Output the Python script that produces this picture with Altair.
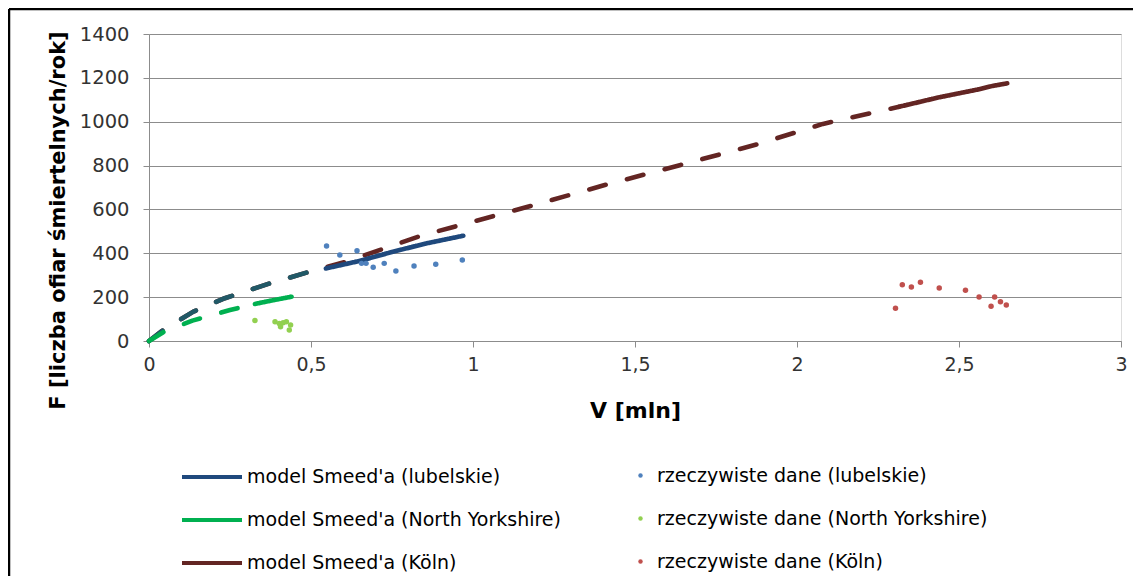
import altair as alt
import pandas as pd

# ---- model lines (Smeed) ----
koln_dash_v = [0, 0.044, 0.137, 0.234, 0.373, 0.496, 0.609, 0.835, 0.934, 1.169, 1.404, 1.641, 1.877, 2.08, 2.315]
koln_dash_f = [0, 50, 134, 195, 263, 316, 362, 478, 518, 612, 710, 803, 897, 990, 1068]
koln_solid_v = [2.315, 2.438, 2.562, 2.603, 2.649]
koln_solid_f = [1068, 1111, 1148, 1163, 1175]

lub_dash_v = [0, 0.044, 0.137, 0.234, 0.373, 0.496, 0.546]
lub_dash_f = [0, 50, 134, 195, 263, 316, 331]
lub_solid_v = [0.546, 0.650, 0.753, 0.856, 0.970]
lub_solid_f = [331, 365, 407, 445, 480]

ny_dash_v = [0, 0.044, 0.134, 0.25, 0.327]
ny_dash_f = [0, 40, 93, 141, 169]
ny_solid_v = [0.327, 0.38, 0.44]
ny_solid_f = [169, 185, 202]

# ---- observed data ----
lub_pts_v = [0.548, 0.589, 0.642, 0.656, 0.670, 0.692, 0.726, 0.762, 0.818, 0.885, 0.967]
lub_pts_f = [433, 392, 412, 354, 354, 336, 354, 319, 342, 350, 369]
ny_pts_v = [0.327, 0.389, 0.402, 0.406, 0.414, 0.424, 0.433, 0.437]
ny_pts_f = [93, 88, 80, 65, 83, 88, 50, 73]
koln_pts_v = [2.304, 2.325, 2.353, 2.381, 2.439, 2.520, 2.562, 2.599, 2.610, 2.628, 2.646]
koln_pts_f = [149, 257, 246, 268, 242, 231, 201, 158, 201, 179, 164]

M_LUB = "model Smeed'a (lubelskie)"
M_NY = "model Smeed'a (North Yorkshire)"
M_KOLN = "model Smeed'a (Köln)"
M_LUB_EXT = "model Smeed'a (lubelskie) ext"
D_LUB = "rzeczywiste dane (lubelskie)"
D_NY = "rzeczywiste dane (North Yorkshire)"
D_KOLN = "rzeczywiste dane (Köln)"

def seg(vs, fs, series, kind):
    return pd.DataFrame({"V": vs, "F": fs, "series": series, "seg": kind})

koln_df = pd.concat([seg(koln_dash_v, koln_dash_f, M_KOLN, "dash"),
                     seg(koln_solid_v, koln_solid_f, M_KOLN, "solid")])
lub_df = pd.concat([seg(lub_dash_v, lub_dash_f, M_LUB_EXT, "dash"),
                    seg(lub_solid_v, lub_solid_f, M_LUB, "solid")])
ny_df = pd.concat([seg(ny_dash_v, ny_dash_f, M_NY, "dash"),
                   seg(ny_solid_v, ny_solid_f, M_NY, "solid")])

pts_df = pd.concat([
    pd.DataFrame({"V": lub_pts_v, "F": lub_pts_f, "pseries": D_LUB}),
    pd.DataFrame({"V": ny_pts_v, "F": ny_pts_f, "pseries": D_NY}),
    pd.DataFrame({"V": koln_pts_v, "F": koln_pts_f, "pseries": D_KOLN}),
])

FONT = "DejaVu Sans"
GRID = "#8c8c8c"

xscale = alt.Scale(domain=[0, 3], nice=False)
yscale = alt.Scale(domain=[0, 1400], nice=False)

xaxis = alt.Axis(values=[0, 0.5, 1, 1.5, 2, 2.5, 3],
                 labelExpr="replace(format(datum.value, '~g'), '.', ',')",
                 grid=False, tickSize=6, tickColor=GRID, domainColor=GRID, labelFlush=False,
                 labelFont=FONT, labelFontSize=19, labelColor="#333333", labelPadding=8,
                 title="V [mln]", titleFont=FONT, titleFontSize=22, titleFontWeight="bold",
                 titleColor="#000000", titleY=69, titleBaseline="middle")
yaxis = alt.Axis(values=[0, 200, 400, 600, 800, 1000, 1200, 1400], format="d",
                 grid=True, gridColor=GRID, gridWidth=1, tickSize=6, tickColor=GRID,
                 domainColor=GRID, labelFlush=False, labelFont=FONT, labelFontSize=19.5,
                 labelColor="#333333", labelPadding=14,
                 title="F [liczba ofiar śmiertelnych/rok]", titleFont=FONT, titleFontSize=21,
                 titleFontWeight="bold", titleColor="#000000", titleAngle=270,
                 titleX=-91, titleY=186, titleAlign="center", titleBaseline="middle")

color = alt.Color("series:N",
                  scale=alt.Scale(domain=[M_LUB, M_NY, M_KOLN, M_LUB_EXT],
                                  range=["#1f497d", "#00b050", "#632523", "#215967"]),
                  legend=alt.Legend(values=[M_LUB, M_NY, M_KOLN], title=None, orient="none",
                                    legendX=53, legendY=433, direction="vertical",
                                    symbolType="M-3.75,0L3.75,0", symbolSize=256,
                                    symbolStrokeWidth=4, labelOffset=25, rowPadding=23,
                                    labelFont=FONT, labelFontSize=19, labelColor="#000000",
                                    labelLimit=500, padding=0))
dash = alt.StrokeDash("seg:N", scale=alt.Scale(domain=["dash", "solid"], range=[[17, 22], [1, 0]]),
                      legend=None)

def line_layer(df):
    return alt.Chart(df).mark_line(strokeWidth=4.6, strokeCap="round", strokeJoin="round").encode(
        x=alt.X("V:Q", scale=xscale, axis=xaxis),
        y=alt.Y("F:Q", scale=yscale, axis=yaxis),
        color=color,
        strokeDash=dash,
    )

points = alt.Chart(pts_df).mark_circle(size=30, opacity=1).encode(
    x=alt.X("V:Q", scale=xscale, axis=xaxis),
    y=alt.Y("F:Q", scale=yscale, axis=yaxis),
    fill=alt.Fill("pseries:N",
                  scale=alt.Scale(domain=[D_LUB, D_NY, D_KOLN],
                                  range=["#4f81bd", "#92d050", "#c0504d"]),
                  legend=alt.Legend(title=None, orient="none", legendX=482, legendY=432,
                                    direction="vertical", symbolType="circle", symbolSize=20,
                                    labelOffset=7, rowPadding=23, labelFont=FONT,
                                    labelFontSize=19, labelColor="#000000", labelLimit=500,
                                    padding=0)),
)

frame_top = alt.Chart(pd.DataFrame({"k": [0]})).mark_rule(color="#000000", strokeWidth=2.5).encode(
    x=alt.value(-140), x2=alt.value(984), y=alt.value(-25))
frame_left = alt.Chart(pd.DataFrame({"k": [0]})).mark_rule(color="#000000", strokeWidth=2.5).encode(
    x=alt.value(-140), y=alt.value(-25), y2=alt.value(542))

chart = alt.layer(
    line_layer(koln_df), line_layer(lub_df), line_layer(ny_df), points, frame_top, frame_left
).properties(
    width=972, height=307,
    padding={"left": 141, "top": 26, "right": 12, "bottom": 235},
    autosize=alt.AutoSizeParams(type="none"),
).configure_view(strokeWidth=0).configure(background="#ffffff")

chart.save("out.html", embed_options={"renderer": "svg", "actions": False})
